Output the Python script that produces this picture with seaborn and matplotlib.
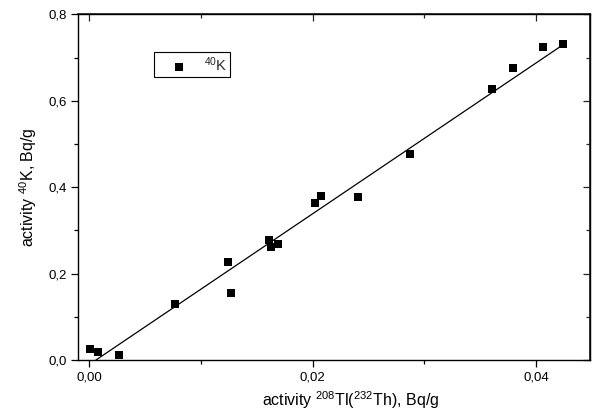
import matplotlib
matplotlib.use("Agg")
import matplotlib.pyplot as plt
import matplotlib.ticker as mticker
import seaborn as sns
import pandas as pd

# Data
tl_activity = [0.00009, 0.00075, 0.00262, 0.00768, 0.01240, 0.01267, 0.01610, 0.01627,
               0.01693, 0.02021, 0.02075, 0.02407, 0.02872, 0.03604, 0.03792, 0.04064, 0.04243]
k_activity = [0.0248, 0.0192, 0.0123, 0.1296, 0.2269, 0.1558, 0.2778, 0.2623,
              0.2685, 0.3641, 0.3796, 0.3766, 0.4769, 0.6273, 0.6766, 0.7245, 0.7315]
fit_x = [0.0006, 0.0426]
fit_y = [0.0, 0.733]
x_ticks = [0.00, 0.02, 0.04]
y_ticks = [0.0, 0.2, 0.4, 0.6, 0.8]

sns.set_theme(style="ticks")
plt.rcParams["font.family"] = ["Liberation Sans", "DejaVu Sans"]
plt.rcParams["mathtext.fontset"] = "custom"
plt.rcParams["mathtext.rm"] = "Liberation Sans"
plt.rcParams["mathtext.it"] = "Liberation Sans"

df = pd.DataFrame({"x": tl_activity, "y": k_activity})
fit = pd.DataFrame({"x": fit_x, "y": fit_y})

fig = plt.figure(figsize=(5.93, 4.12), dpi=100)
ax = fig.add_axes([78 / 593, 52 / 412, 512 / 593, 345.5 / 412])

sns.lineplot(data=fit, x="x", y="y", ax=ax, color="black", linewidth=0.9, legend=False)
sns.scatterplot(data=df, x="x", y="y", ax=ax, marker="s", s=26, color="black",
                edgecolor="black", linewidth=0, label="$^{40}$K", zorder=3)

ax.set_xlim(-0.00101, 0.04484)
ax.set_ylim(0.0, 0.8)
ax.set_xticks(x_ticks)
ax.set_yticks(y_ticks)
ax.xaxis.set_minor_locator(mticker.AutoMinorLocator(2))
ax.yaxis.set_minor_locator(mticker.AutoMinorLocator(2))
ax.xaxis.set_major_formatter(mticker.FuncFormatter(lambda v, p: f"{v:.2f}".replace(".", ",")))
ax.yaxis.set_major_formatter(mticker.FuncFormatter(lambda v, p: f"{v:.1f}".replace(".", ",")))

for sp in ax.spines.values():
    sp.set_visible(True)
    sp.set_linewidth(1.0)
    sp.set_color("black")

ax.tick_params(which="major", direction="out", length=5, width=0.9, color="black",
               labelsize=9.5, labelcolor="black", pad=3)
ax.tick_params(which="minor", direction="out", length=3, width=0.9, color="black")

sec_x = ax.secondary_xaxis("top")
sec_x.set_xticks(x_ticks)
sec_x.xaxis.set_minor_locator(mticker.AutoMinorLocator(2))
sec_x.tick_params(which="major", direction="in", length=5, width=0.9, labeltop=False)
sec_x.tick_params(which="minor", direction="in", length=3, width=0.9)
sec_y = ax.secondary_yaxis("right")
sec_y.set_yticks(y_ticks)
sec_y.yaxis.set_minor_locator(mticker.AutoMinorLocator(2))
sec_y.tick_params(which="major", direction="in", length=5, width=0.9, labelright=False)
sec_y.tick_params(which="minor", direction="in", length=3, width=0.9)

ax.set_xlabel("activity $^{208}$Tl($^{232}$Th), Bq/g", fontsize=11.5, color="black")
ax.xaxis.set_label_coords(0.533, -0.085)
ax.set_ylabel("activity $^{40}$K, Bq/g", fontsize=11.5, color="black", labelpad=7)

leg = ax.legend(loc="upper left", bbox_to_anchor=(0.148, 0.891), fontsize=10.5,
                frameon=True, fancybox=False, edgecolor="black", framealpha=1,
                handletextpad=0.2, handlelength=3.0, borderpad=0.22, borderaxespad=0.0,
                markerscale=1.0)
leg.get_frame().set_linewidth(0.8)

fig.savefig("out.png", dpi=100)
